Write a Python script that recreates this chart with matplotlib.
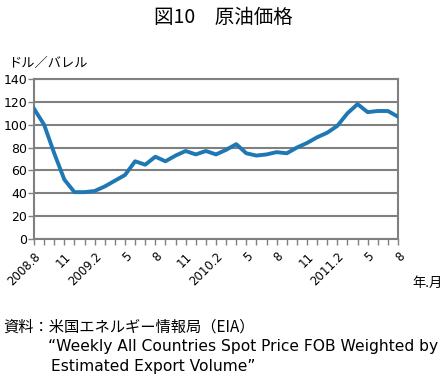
import matplotlib
matplotlib.use('Agg')
import matplotlib.pyplot as plt

plt.rcParams['font.family'] = ['DejaVu Sans', 'Noto Sans CJK JP']

# monthly crude oil price, 2008.8 - 2011.8 (USD/barrel)
months = list(range(37))
prices = [114, 100, 75, 52, 41, 41, 42, 46, 51, 56, 68, 65, 72, 68, 73, 77, 74, 77, 74, 78,
          83, 75, 73, 74, 76, 75, 80, 84, 89, 93, 99, 110, 118, 111, 112, 112, 107]
tick_pos = list(range(0, 37, 3))
tick_labels = ['2008.8', '11', '2009.2', '5', '8', '11', '2010.2', '5', '8', '11', '2011.2', '5', '8']
yticks = list(range(0, 141, 20))

jp = ['Noto Sans CJK JP', 'DejaVu Sans']
gray = '#808080'

fig = plt.figure(figsize=(4.46, 3.79), dpi=100)
ax = fig.add_axes([34 / 446, 1 - 239 / 379, 364 / 446, 160 / 379])

ax.plot(months, prices, color='#1f78b4', lw=2.8, solid_joinstyle='round', zorder=3)

ax.set_xlim(0, 36)
ax.set_ylim(0, 140)
ax.set_yticks(yticks)
ax.set_xticks(tick_pos, tick_labels, rotation=45, ha='right', va='top',
              rotation_mode='anchor')
ax.set_xticks(months, minor=True)
ax.tick_params(axis='x', which='both', length=4, width=1, color=gray, direction='out',
               labelsize=8.5, pad=4)
ax.tick_params(axis='y', length=4, width=1, color=gray, labelsize=9, pad=1)
ax.yaxis.grid(True, color=gray, lw=1.5)
for s in ax.spines.values():
    s.set_color(gray)
    s.set_linewidth(1.5)
ax.set_axisbelow(True)

fig.text(0.5, 1 - 17 / 379, '図10　原油価格', family=jp, fontsize=14, ha='center', va='center')
fig.text(8 / 446, 1 - 63 / 379, 'ドル／バレル', family=jp, fontsize=9.5, ha='left', va='center')
fig.text(412 / 446, 1 - 283 / 379, '年.月', family=jp, fontsize=9.5, ha='left', va='center')
fig.text(3 / 446, 1 - 327 / 379, '資料：米国エネルギー情報局（EIA）', family=jp, fontsize=11,
         ha='left', va='center')
fig.text(48 / 446, 1 - 347 / 379, '“Weekly All Countries Spot Price FOB Weighted by',
         fontsize=11.2, ha='left', va='center')
fig.text(51 / 446, 1 - 367 / 379, 'Estimated Export Volume”', fontsize=11.2, ha='left',
         va='center')

fig.savefig('out.png', dpi=100)
